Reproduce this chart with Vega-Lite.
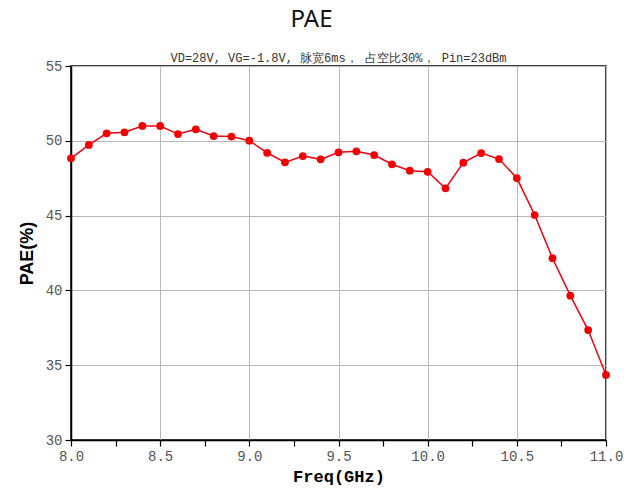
{
  "$schema": "https://vega.github.io/schema/vega-lite/v6.json",
  "width": 535,
  "height": 374,
  "autosize": "none",
  "padding": {"left": 71, "top": 66, "right": 25, "bottom": 52},
  "background": "white",
  "title": {
    "text": "PAE",
    "font": "Noto Sans",
    "fontSize": 24,
    "fontWeight": "normal",
    "color": "#111",
    "anchor": "middle",
    "frame": "group",
    "dx": -27,
    "offset": 20
  },
  "config": {
    "view": {"stroke": "#000", "strokeWidth": 1.5},
    "axis": {
      "labelFont": "Liberation Mono",
      "labelFontSize": 14,
      "labelColor": "#555",
      "titleColor": "#000",
      "domainColor": "#000",
      "domainWidth": 1.5,
      "tickColor": "#000",
      "tickWidth": 1.2,
      "gridColor": "#b8b8b8",
      "gridWidth": 1
    }
  },
  "datasets": {
    "pae": [
      {"freq": 8.0, "pae": 48.83},
      {"freq": 8.1, "pae": 49.72},
      {"freq": 8.2, "pae": 50.5},
      {"freq": 8.3, "pae": 50.57},
      {"freq": 8.4, "pae": 50.99},
      {"freq": 8.5, "pae": 50.99},
      {"freq": 8.6, "pae": 50.45},
      {"freq": 8.7, "pae": 50.77},
      {"freq": 8.8, "pae": 50.32},
      {"freq": 8.9, "pae": 50.28},
      {"freq": 9.0, "pae": 50.01},
      {"freq": 9.1, "pae": 49.2},
      {"freq": 9.2, "pae": 48.56},
      {"freq": 9.3, "pae": 48.98},
      {"freq": 9.4, "pae": 48.76},
      {"freq": 9.5, "pae": 49.23},
      {"freq": 9.6, "pae": 49.3},
      {"freq": 9.7, "pae": 49.05},
      {"freq": 9.8, "pae": 48.43},
      {"freq": 9.9, "pae": 48.0},
      {"freq": 10.0, "pae": 47.93},
      {"freq": 10.1, "pae": 46.82},
      {"freq": 10.2, "pae": 48.54},
      {"freq": 10.3, "pae": 49.18},
      {"freq": 10.4, "pae": 48.78},
      {"freq": 10.5, "pae": 47.51},
      {"freq": 10.6, "pae": 45.04},
      {"freq": 10.7, "pae": 42.15},
      {"freq": 10.8, "pae": 39.65},
      {"freq": 10.9, "pae": 37.35},
      {"freq": 11.0, "pae": 34.35}
    ],
    "note": [
      {"freq": 9.5, "pae": 55, "t": "VD=28V, VG=-1.8V, 脉宽6ms， 占空比30%， Pin=23dBm"}
    ]
  },
  "layer": [
    {
      "data": {"name": "pae"},
      "mark": {"type": "line", "color": "#f00010", "strokeWidth": 1.5},
      "encoding": {
        "x": {
          "field": "freq",
          "type": "quantitative",
          "scale": {"domain": [8, 11], "nice": false, "zero": false},
          "axis": {
            "title": "Freq(GHz)",
            "titleFont": "Liberation Mono",
            "titleFontWeight": "bold",
            "titleFontSize": 17,
            "titlePadding": 5,
            "values": [8, 8.25, 8.5, 8.75, 9, 9.25, 9.5, 9.75, 10, 10.25, 10.5, 10.75, 11],
            "labelExpr": "datum.value % 0.5 === 0 ? format(datum.value, '.1f') : ''",
            "gridOpacity": {"condition": {"test": "datum.value % 0.5 === 0", "value": 1}, "value": 0},
            "tickSize": 6,
            "labelPadding": 3,
            "labelFlush": false
          }
        },
        "y": {
          "field": "pae",
          "type": "quantitative",
          "scale": {"domain": [30, 55], "nice": false, "zero": false},
          "axis": {
            "title": "PAE(%)",
            "titleFont": "Liberation Sans",
            "titleFontWeight": "bold",
            "titleFontSize": 18,
            "titlePadding": 9,
            "values": [30, 32.5, 35, 37.5, 40, 42.5, 45, 47.5, 50, 52.5, 55],
            "labelExpr": "datum.value % 5 === 0 ? format(datum.value, 'd') : ''",
            "gridOpacity": {"condition": {"test": "datum.value % 5 === 0", "value": 1}, "value": 0},
            "tickSize": 6,
            "labelPadding": 3
          }
        }
      }
    },
    {
      "data": {"name": "pae"},
      "mark": {"type": "point", "filled": true, "color": "#f00000", "size": 60, "opacity": 1},
      "encoding": {
        "x": {"field": "freq", "type": "quantitative"},
        "y": {"field": "pae", "type": "quantitative"}
      }
    },
    {
      "data": {"name": "note"},
      "mark": {"type": "text", "font": "Liberation Mono", "fontSize": 12, "color": "#333", "baseline": "bottom", "dy": -1},
      "encoding": {
        "x": {"field": "freq", "type": "quantitative"},
        "y": {"field": "pae", "type": "quantitative"},
        "text": {"field": "t", "type": "nominal"}
      }
    }
  ]
}
